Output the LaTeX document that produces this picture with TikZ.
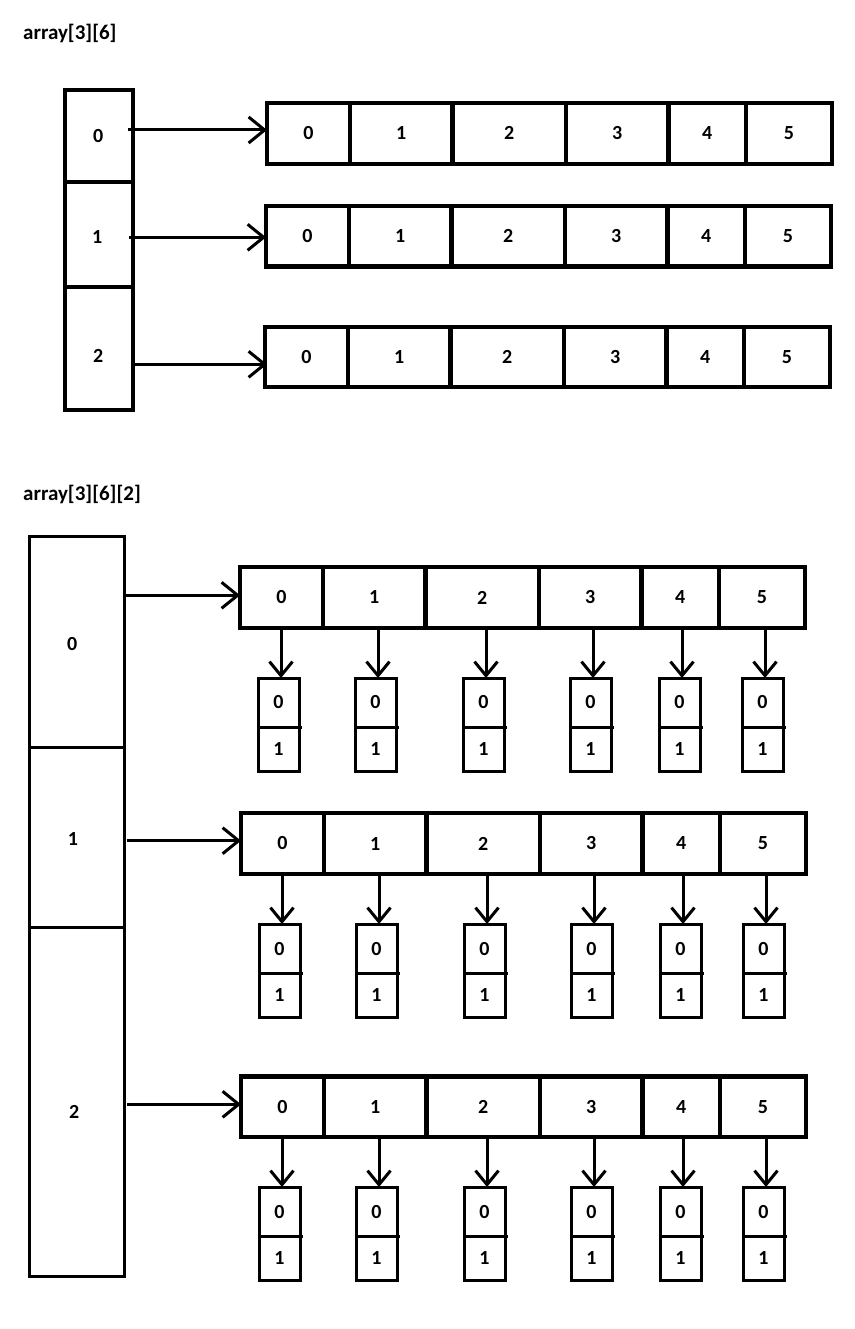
\documentclass[tikz,border=0pt]{standalone}
\usepackage{fontspec}
\setmainfont{Carlito}
\usetikzlibrary{arrows.meta}
\newcommand\cellfnt{\fontsize{20}{20}\selectfont\bfseries}
\newcommand\titlefnt{\fontsize{21}{21}\selectfont\bfseries}
% a row of six cells: #1 name, #2 left x, #3 top y, #4 height
\newcommand\drawrow[4]{%
  \foreach \a/\b [count=\i from 0] in {0/83,83/185.5,185.5/299,299/401.5,401.5/479,479/565}{%
    \pgfmathsetmacro\w{\b-\a}%
    \node[rowcell, minimum width=\w pt, minimum height=#4 pt] (#1\i) at (#2+\a,#3) {\i};
  }}
% the pairs under a row: #1 prefix, #2 row name, #3 top y, #4 left x list
\newcommand\drawpairs[4]{%
  \foreach \l [count=\i from 0] in {#4}{%
    \node[pairtop] (#1a\i) at (\l,#3) {0};
    \node[pairbot] (#1b\i) at (\l,#3+49) {1};
    \draw[line width=3pt] (#1a\i.south west) -- ([xshift=3pt]#1a\i.south east);
    \draw[darr] ([xshift=2.5pt]#1a\i.north |- #2\i.south) -- ([xshift=2.5pt]#1a\i.north);
  }}
\begin{document}
\begin{tikzpicture}[x=1pt,y=-1pt,
  rowcell/.style={draw, line width=4.3pt, inner sep=0pt, outer sep=0pt, anchor=north west, font=\cellfnt},
  colcell/.style={draw, line width=4.3pt, inner sep=0pt, outer sep=0pt, anchor=north west, minimum width=68pt},
  bigcell/.style={draw, line width=3pt, inner sep=0pt, outer sep=0pt, anchor=north west, minimum width=94.8pt},
  pairtop/.style={draw, line width=3pt, inner sep=0pt, outer sep=0pt, anchor=north west, minimum width=41pt, minimum height=49pt, font=\cellfnt},
  pairbot/.style={draw, line width=3pt, inner sep=0pt, outer sep=0pt, anchor=north west, minimum width=41pt, minimum height=44pt, font=\cellfnt},
  harr/.style={line width=3pt, -{Straight Barb[length=16pt,width=26pt]}},
  darr/.style={line width=3pt, -{Straight Barb[length=14pt,width=23pt]}},
  lbl/.style={font=\cellfnt, inner sep=0pt},
  ttl/.style={font=\titlefnt, inner sep=0pt, anchor=west}]
\useasboundingbox (0,0) rectangle (854,1329);

% ---------- array[3][6] ----------
\node[ttl] (t1) at (23,33) {array[3][6]};

\node[colcell, minimum height=91.7pt] (lt0) at (65,90) {};
\node[colcell, minimum height=105.6pt] (lt1) at (65,181.7) {};
\node[colcell, minimum height=122.7pt] (lt2) at (65,287.3) {};
\node[lbl] (ltl0) at (98.3,135.7) {0};
\node[lbl] (ltl1) at (97.3,237.3) {1};
\node[lbl] (ltl2) at (98.3,355.7) {2};

\drawrow{T1}{267}{102.7}{61}
\drawrow{T2}{266}{206}{60.5}
\drawrow{T3}{265}{327}{60}

\coordinate (s1) at (128,130);
\coordinate (s2) at (129.3,237.3);
\coordinate (s3) at (134,364.3);
\draw[harr] (s1) -- (s1 -| T10.west);
\draw[harr] (s2) -- (s2 -| T20.west);
\draw[harr] (s3) -- ([xshift=2pt]s3 -| T30.west);

% ---------- array[3][6][2] ----------
\node[ttl] (t2) at (23,494.5) {array[3][6][2]};

\node[bigcell, minimum height=211pt] (lb0) at (29.5,536.7) {};
\node[bigcell, minimum height=179.6pt] (lb1) at (29.5,747.7) {};
\node[bigcell, minimum height=348.7pt] (lb2) at (29.5,927.3) {};
\node[lbl] (lbl0) at (72.3,644.3) {0};
\node[lbl] (lbl1) at (73,839) {1};
\node[lbl] (lbl2) at (74.3,1112.3) {2};

\drawrow{A}{240}{567}{61}
\drawrow{B}{241}{813}{61}
\drawrow{C}{241}{1076.5}{60.5}

\coordinate (u1) at (124,595.3);
\coordinate (u2) at (126.7,840.7);
\coordinate (u3) at (127,1104.3);
\draw[harr] (u1) -- (u1 -| A0.west);
\draw[harr] (u2) -- (u2 -| B0.west);
\draw[harr] (u3) -- (u3 -| C0.west);

\drawpairs{PA}{A}{678}{258,355,463,570,659,742}
\drawpairs{PB}{B}{924}{259,356,464,571,660,743}
\drawpairs{PC}{C}{1187}{259,356,464,571,660,743}
\end{tikzpicture}
\end{document}
